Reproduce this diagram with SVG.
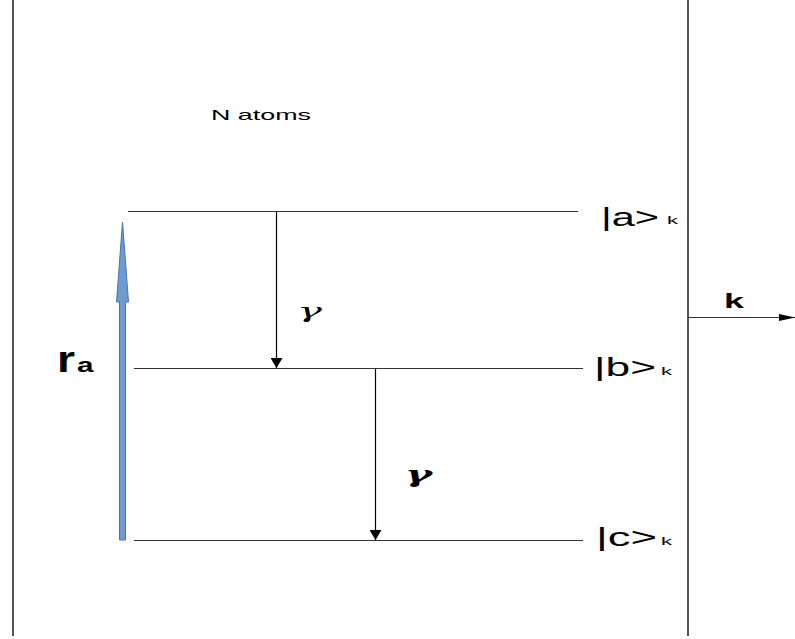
<svg xmlns="http://www.w3.org/2000/svg" width="795" height="639" viewBox="0 0 795 639">
<defs>
<marker id="ah" markerWidth="10" markerHeight="12" refX="10" refY="6" orient="auto" markerUnits="userSpaceOnUse" viewBox="0 0 10 12">
<path d="M0,0 L10,6 L0,12 Z" fill="#000"/>
</marker>
<marker id="ahk" markerWidth="16" markerHeight="8" refX="16" refY="4" orient="auto" markerUnits="userSpaceOnUse" viewBox="0 0 16 8">
<path d="M0,0.5 L16,4 L0,7.5 Z" fill="#000"/>
</marker>
</defs>
<style>
.wall{stroke:#555;stroke-width:2;fill:none}
.lvl{stroke:#333;stroke-width:1;fill:none}
.ar{stroke:#000;stroke-width:1.2;fill:none}
.t{font-family:"Liberation Sans",Arial,sans-serif;fill:#000}
.g{font-family:"DejaVu Serif","Liberation Serif",serif;font-style:italic;fill:#000}
</style>
<rect width="795" height="639" fill="#fff"/>
<g id="walls">
<line class="wall" x1="13" y1="0" x2="13" y2="636"/>
<line class="wall" x1="688" y1="0" x2="688" y2="636"/>
</g>
<g id="levels">
<g id="level-a"><line class="lvl" x1="128" y1="211.5" x2="578" y2="211.5"/>
<text class="t" x="601" y="226" font-size="25" textLength="58" lengthAdjust="spacingAndGlyphs">|a&gt;</text><text class="t" x="667" y="224" font-size="11" textLength="11" lengthAdjust="spacingAndGlyphs">k</text></g>
<g id="level-b"><line class="lvl" x1="134" y1="368.5" x2="583" y2="368.5"/>
<text class="t" x="594" y="376" font-size="25" textLength="62" lengthAdjust="spacingAndGlyphs">|b&gt;</text><text class="t" x="661" y="375" font-size="11" textLength="11" lengthAdjust="spacingAndGlyphs">k</text></g>
<g id="level-c"><line class="lvl" x1="134" y1="540.5" x2="583" y2="540.5"/>
<text class="t" x="596" y="546" font-size="25" textLength="61" lengthAdjust="spacingAndGlyphs">|c&gt;</text><text class="t" x="661" y="545" font-size="11" textLength="11" lengthAdjust="spacingAndGlyphs">k</text></g>
</g>
<g id="label-natoms"><text class="t" x="211" y="120" font-size="15" textLength="100" lengthAdjust="spacingAndGlyphs">N atoms</text></g>
<g id="label-ra"><text class="t" x="57" y="372" font-size="37" font-weight="bold" textLength="18" lengthAdjust="spacingAndGlyphs">r</text><text class="t" x="77" y="372" font-size="20" font-weight="bold" textLength="16.5" lengthAdjust="spacingAndGlyphs">a</text></g>
<g id="ra-arrow">
<path d="M119.5,540 L119.5,302 L116.5,302 L122.5,222 L128.5,302 L125.5,302 L125.5,540 Z" fill="#6f9bd1" stroke="#4a72ad" stroke-width="1"/>
</g>
<g id="label-gamma1"><text class="g" x="297" y="318" font-size="21" textLength="25" lengthAdjust="spacingAndGlyphs">γ</text></g>
<g id="label-gamma2"><text class="g" x="405" y="482" font-size="23" font-weight="bold" textLength="27" lengthAdjust="spacingAndGlyphs">γ</text></g>
<g id="label-k"><text class="t" x="724" y="308" font-size="21" font-weight="bold" textLength="20" lengthAdjust="spacingAndGlyphs">k</text></g>
<g id="connectors">
<line class="ar" x1="276.5" y1="212" x2="276.5" y2="368" marker-end="url(#ah)"/>
<line class="ar" x1="375.5" y1="369" x2="375.5" y2="540" marker-end="url(#ah)"/>
<line class="lvl" x1="688" y1="317.5" x2="795" y2="317.5" marker-end="url(#ahk)"/>
</g>
</svg>
